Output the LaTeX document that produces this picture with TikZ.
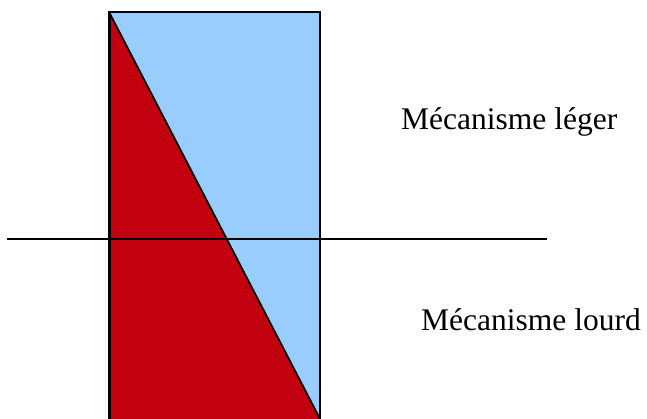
\documentclass[tikz,border=0pt]{standalone}
\usepackage{fontspec}
\setmainfont{Liberation Serif}
\definecolor{lightblue}{HTML}{99CCFF}
\definecolor{darkred}{HTML}{C20010}
\tikzset{
  label text/.style={anchor=base west, inner sep=0pt, font=\fontsize{31.5}{36}\selectfont},
  edge line/.style={draw=black, line width=2pt},
}
\begin{document}
\begin{tikzpicture}[x=1pt,y=-1pt]
\useasboundingbox (0,0) rectangle (647,419);
\clip (0,0) rectangle (647,419);
\coordinate (tl) at (109,12);
\coordinate (tr) at (320,12);
\coordinate (br) at (320,425);
\coordinate (bl) at (109,425);
\coordinate (diagend) at (320,419);
% fills
\fill[lightblue] (tl) -- (tr) -- (br) -- (bl) -- cycle;
\fill[darkred] (tl) -- (diagend) -- (320,425) -- (bl) -- cycle;
% horizontal line
\coordinate (hl) at (7,239);
\coordinate (hr) at (547,239);
\draw[line width=2pt] (hl) -- (hr);
% rectangle edges
\draw[edge line] (bl) -- (tl) -- (tr) -- (br);
\draw[line width=3pt] (bl) -- (tl);
% diagonal
\draw[line width=1.8pt] (tl) -- (diagend);
% labels
\node[label text] (leger) at (401,130) {Mécanisme léger};
\node[label text] (lourd) at (421,330) {Mécanisme lourd};
\end{tikzpicture}
\end{document}
